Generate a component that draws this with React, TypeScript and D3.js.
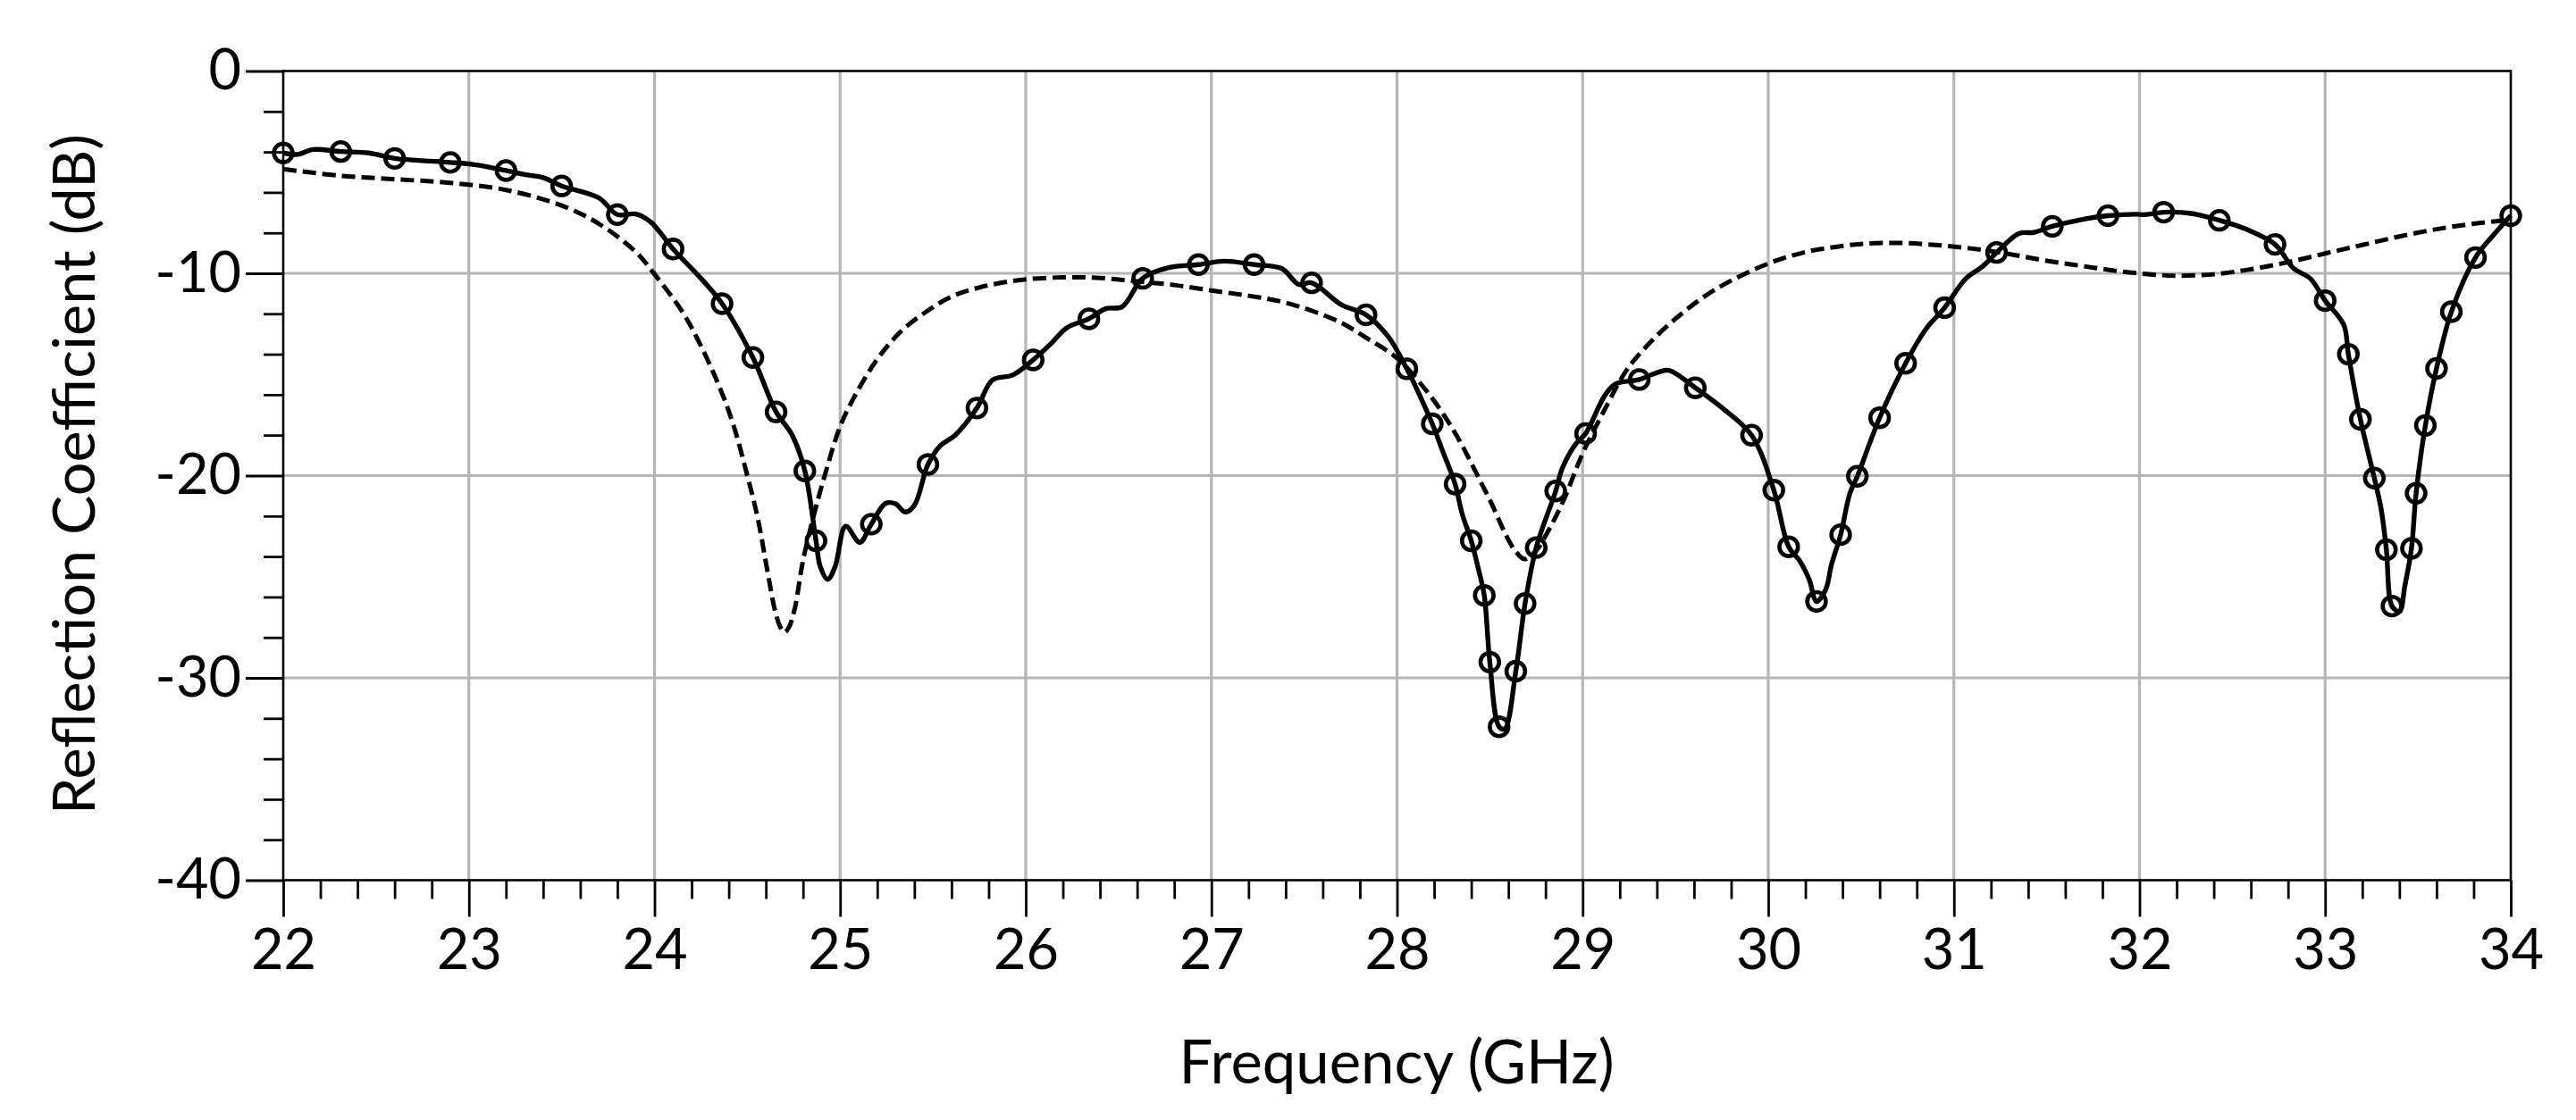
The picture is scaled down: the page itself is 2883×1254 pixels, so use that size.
import { useEffect, useRef } from 'react';
import * as d3 from 'd3';

const width = 2883;
const height = 1254;
const margin = { top: 79.5, right: 73, bottom: 268.5, left: 317 };

const xMajorTicks = [22, 23, 24, 25, 26, 27, 28, 29, 30, 31, 32, 33, 34];
const yMajorTicks = [0, -10, -20, -30, -40];
const xLabel = 'Frequency (GHz)';
const yLabel = 'Reflection Coefficient (dB)';

const measuredFreq = [
  22, 22.08, 22.16, 22.31, 22.46, 22.6, 22.73, 22.9, 23.03, 23.2, 23.3, 23.4, 23.5, 23.7, 23.8, 23.9, 23.98, 24.1,
  24.25, 24.364, 24.53, 24.655, 24.74, 24.81, 24.87, 24.893, 24.933, 24.973, 25.03, 25.106, 25.168, 25.245, 25.3,
  25.35, 25.4, 25.473, 25.54, 25.62, 25.737, 25.82, 25.93, 26.04, 26.14, 26.22, 26.34, 26.43, 26.52, 26.63,
  26.77, 26.93, 27.07, 27.23, 27.38, 27.47, 27.54, 27.7, 27.833, 27.95, 28.053, 28.19, 28.245, 28.313, 28.35, 28.4,
  28.44, 28.47, 28.5, 28.55, 28.58, 28.64, 28.69, 28.75, 28.855, 28.89, 28.96, 29.016, 29.12, 29.177, 29.305, 29.41,
  29.465, 29.607, 29.75, 29.91, 30.03, 30.11, 30.17, 30.22, 30.26, 30.31, 30.34, 30.39, 30.44, 30.48, 30.6, 30.74,
  30.85, 30.95, 31.06, 31.16, 31.23, 31.35, 31.43, 31.53, 31.7, 31.83, 31.98, 32.03, 32.13, 32.28, 32.43, 32.58,
  32.73, 32.83, 32.92, 33, 33.1, 33.125, 33.19, 33.265, 33.3, 33.33, 33.36, 33.4, 33.43, 33.465, 33.49, 33.54, 33.6,
  33.68, 33.81, 33.9, 34,
];
const measuredDb = [
  -4.05, -4.12, -3.88, -3.98, -4.05, -4.32, -4.42, -4.52, -4.63, -4.92, -5.12, -5.27, -5.68, -6.27, -7.1, -7.07, -7.47,
  -8.8, -10.25, -11.5, -14.16, -16.85, -17.97, -19.77, -23.22, -24.5, -25.13, -24.5, -22.5, -23.3, -22.4, -21.37,
  -21.4, -21.8, -21.47, -19.45, -18.52, -18, -16.66, -15.28, -15.03, -14.28, -13.44, -12.7, -12.25, -11.75, -11.65,
  -10.25, -9.72, -9.57, -9.4, -9.57, -9.77, -10.55, -10.47, -11.55, -12.05, -13.1, -14.72, -17.44, -18.77, -20.42,
  -21.86, -23.22, -24.67, -25.92, -29.22, -32.42, -32.52, -29.67, -26.32, -23.56, -20.76, -19.65, -18.47, -17.92,
  -16.03, -15.47, -15.25, -14.88, -14.8, -15.66, -16.64, -18, -20.72, -23.52, -24.22, -25.12, -26.22, -25.62, -24.42,
  -22.92, -20.87, -20.03, -17.14, -14.45, -12.75, -11.7, -10.3, -9.62, -8.97, -8.03, -7.98, -7.68, -7.32, -7.15,
  -7.08, -7.1, -6.98, -7.04, -7.38, -7.84, -8.57, -9.76, -10.26, -11.35, -12.54, -14, -17.22, -20.12, -21.57, -23.66,
  -26.45, -26.72, -25.42, -23.6, -20.87, -17.52, -14.7, -11.9, -9.22, -8.18, -7.15,
];

// circle markers on the measured curve
const markerFreq = [
  22, 22.31, 22.6, 22.9, 23.2, 23.5, 23.8, 24.1, 24.364, 24.53, 24.655, 24.81, 24.87, 25.168, 25.473, 25.737, 26.04,
  26.34, 26.63, 26.93, 27.23, 27.54, 27.833, 28.053, 28.19, 28.313, 28.4, 28.47, 28.5, 28.55, 28.64, 28.69, 28.75,
  28.855, 29.016, 29.305, 29.607, 29.91, 30.03, 30.11, 30.26, 30.39, 30.48, 30.6, 30.74, 30.95, 31.23, 31.53, 31.83,
  32.13, 32.43, 32.73, 33, 33.125, 33.19, 33.265, 33.33, 33.36, 33.465, 33.49, 33.54, 33.6, 33.68, 33.81, 34,
];
const markerDb = [
  -4.05, -3.98, -4.32, -4.52, -4.92, -5.68, -7.1, -8.8, -11.5, -14.16, -16.85, -19.77, -23.22, -22.4, -19.45, -16.66,
  -14.28, -12.25, -10.25, -9.57, -9.57, -10.47, -12.05, -14.72, -17.44, -20.42, -23.22, -25.92, -29.22, -32.42, -29.67,
  -26.32, -23.56, -20.76, -17.92, -15.25, -15.66, -18, -20.72, -23.52, -26.22, -22.92, -20.03, -17.14, -14.45, -11.7,
  -8.97, -7.68, -7.15, -6.98, -7.38, -8.57, -11.35, -14, -17.22, -20.12, -23.66, -26.45, -23.6, -20.87, -17.52, -14.7,
  -11.9, -9.22, -7.15,
];

// simulated curve (dashed)
const simulatedFreq = [
  22, 22.3, 22.6, 22.9, 23.2, 23.5, 23.7, 23.9, 24, 24.15, 24.24, 24.34, 24.42, 24.5, 24.556, 24.61, 24.65, 24.676,
  24.7, 24.724, 24.756, 24.8, 24.87, 24.917, 25, 25.077, 25.2, 25.33, 25.48, 25.6, 25.75, 25.96, 26.2, 26.4, 26.6,
  26.8, 27, 27.2, 27.4, 27.69, 27.836, 27.997, 28.125, 28.24, 28.334, 28.43, 28.51, 28.59, 28.64, 28.687, 28.75,
  28.815, 28.896, 29, 29.104, 29.233, 29.345, 29.5, 29.714, 30, 30.2, 30.3, 30.5, 30.7, 30.9, 31.1, 31.3, 31.5, 31.7,
  31.9, 32.1, 32.2, 32.4, 32.6, 32.8, 33, 33.2, 33.4, 33.6, 33.8, 34,
];
const simulatedDb = [
  -4.85, -5.17, -5.35, -5.53, -5.88, -6.65, -7.55, -8.95, -10.04, -11.9, -13.4, -15.4, -17.35, -20, -22.1, -24.8, -26.7,
  -27.45, -27.75, -27.5, -26.56, -24.2, -21.55, -20, -17.57, -16.1, -14.25, -12.85, -11.8, -11.15, -10.7, -10.34,
  -10.2, -10.23, -10.4, -10.58, -10.85, -11.11, -11.45, -12.4, -13.2, -14.17, -15.43, -16.83, -18.23, -19.93, -21.4,
  -23, -23.76, -24.13, -23.7, -22.73, -21.25, -18.9, -17, -14.84, -13.6, -12.25, -10.8, -9.52, -8.95, -8.78, -8.55,
  -8.5, -8.6, -8.78, -9.05, -9.38, -9.65, -9.91, -10.08, -10.12, -10.05, -9.8, -9.45, -9.02, -8.6, -8.18, -7.82, -7.55,
  -7.35,
];

export default function App() {
  const svgRef = useRef<SVGSVGElement>(null);

  useEffect(() => {
    if (!svgRef.current) return;
    const svg = d3.select(svgRef.current);
    svg.selectAll('*').remove();

    const innerW = width - margin.left - margin.right;
    const innerH = height - margin.top - margin.bottom;
    const x = d3.scaleLinear().domain([22, 34]).range([0, innerW]);
    const y = d3.scaleLinear().domain([0, -40]).range([0, innerH]);

    const g = svg.append('g').attr('transform', `translate(${margin.left},${margin.top})`);

    // Grid
    g.selectAll('.grid-v')
      .data(xMajorTicks.slice(1, -1))
      .enter()
      .append('line')
      .attr('x1', (d) => x(d))
      .attr('x2', (d) => x(d))
      .attr('y1', 0)
      .attr('y2', innerH)
      .attr('stroke', '#b6b6b6')
      .attr('stroke-width', 3.2);
    g.selectAll('.grid-h')
      .data(yMajorTicks.slice(1, -1))
      .enter()
      .append('line')
      .attr('x1', 0)
      .attr('x2', innerW)
      .attr('y1', (d) => y(d))
      .attr('y2', (d) => y(d))
      .attr('stroke', '#b6b6b6')
      .attr('stroke-width', 2.8);

    // Curves
    const line = d3
      .line<number>()
      .x((d) => x(d))
      .curve(d3.curveCatmullRom.alpha(0.5));
    g.append('path')
      .attr('d', line.y((_, i) => y(simulatedDb[i]))(simulatedFreq))
      .attr('fill', 'none')
      .attr('stroke', '#000')
      .attr('stroke-width', 5)
      .attr('stroke-dasharray', '15 7');
    g.append('path')
      .attr('d', line.y((_, i) => y(measuredDb[i]))(measuredFreq))
      .attr('fill', 'none')
      .attr('stroke', '#000')
      .attr('stroke-width', 5.4);
    g.selectAll('.marker')
      .data(markerFreq)
      .enter()
      .append('circle')
      .attr('cx', (d) => x(d))
      .attr('cy', (_, i) => y(markerDb[i]))
      .attr('r', 10.4)
      .attr('fill', 'none')
      .attr('stroke', '#000')
      .attr('stroke-width', 4.6);

    // Frame
    g.append('rect')
      .attr('width', innerW)
      .attr('height', innerH)
      .attr('fill', 'none')
      .attr('stroke', '#000')
      .attr('stroke-width', 2.6);

    // Axes
    const minorX = d3.range(0, 61).map((i) => 22 + i * 0.2).filter((_, i) => i % 5 !== 0);
    const minorY = d3.range(0, 21).map((i) => -i * 2).filter((_, i) => i % 5 !== 0);

    const xAxis = g.append('g').attr('transform', `translate(0,${innerH})`);
    xAxis.call(d3.axisBottom(x).tickValues(minorX).tickSize(21).tickFormat(() => ''));
    const xMajor = g.append('g').attr('transform', `translate(0,${innerH})`);
    xMajor.call(d3.axisBottom(x).tickValues(xMajorTicks).tickSize(41).tickPadding(14).tickFormat((d) => String(d)));

    const yAxis = g.append('g');
    yAxis.call(d3.axisLeft(y).tickValues(minorY).tickSize(22).tickFormat(() => ''));
    const yMajor = g.append('g');
    yMajor.call(d3.axisLeft(y).tickValues(yMajorTicks).tickSize(42).tickPadding(5).tickFormat((d) => String(d)));

    g.selectAll('.domain').remove();
    g.selectAll('.tick line').attr('stroke', '#000').attr('stroke-width', 2.8);
    g.selectAll('.tick text')
      .attr('fill', '#000')
      .style('font-family', 'Lato')
      .style('font-size', '63px');

    // Axis labels
    svg
      .append('text')
      .attr('x', 1563)
      .attr('y', 1213)
      .attr('text-anchor', 'middle')
      .style('font-family', 'Lato')
      .style('font-size', '67px')
      .text(xLabel);
    svg
      .append('text')
      .attr('transform', 'translate(106,531) rotate(-90)')
      .attr('text-anchor', 'middle')
      .style('font-family', 'Lato')
      .style('font-size', '66.5px')
      .text(yLabel);
  }, []);

  return (
    <svg
      ref={svgRef}
      width={width}
      height={height}
      style={{ position: 'absolute', left: 0, top: 0, background: '#fff', display: 'block' }}
    />
  );
}
